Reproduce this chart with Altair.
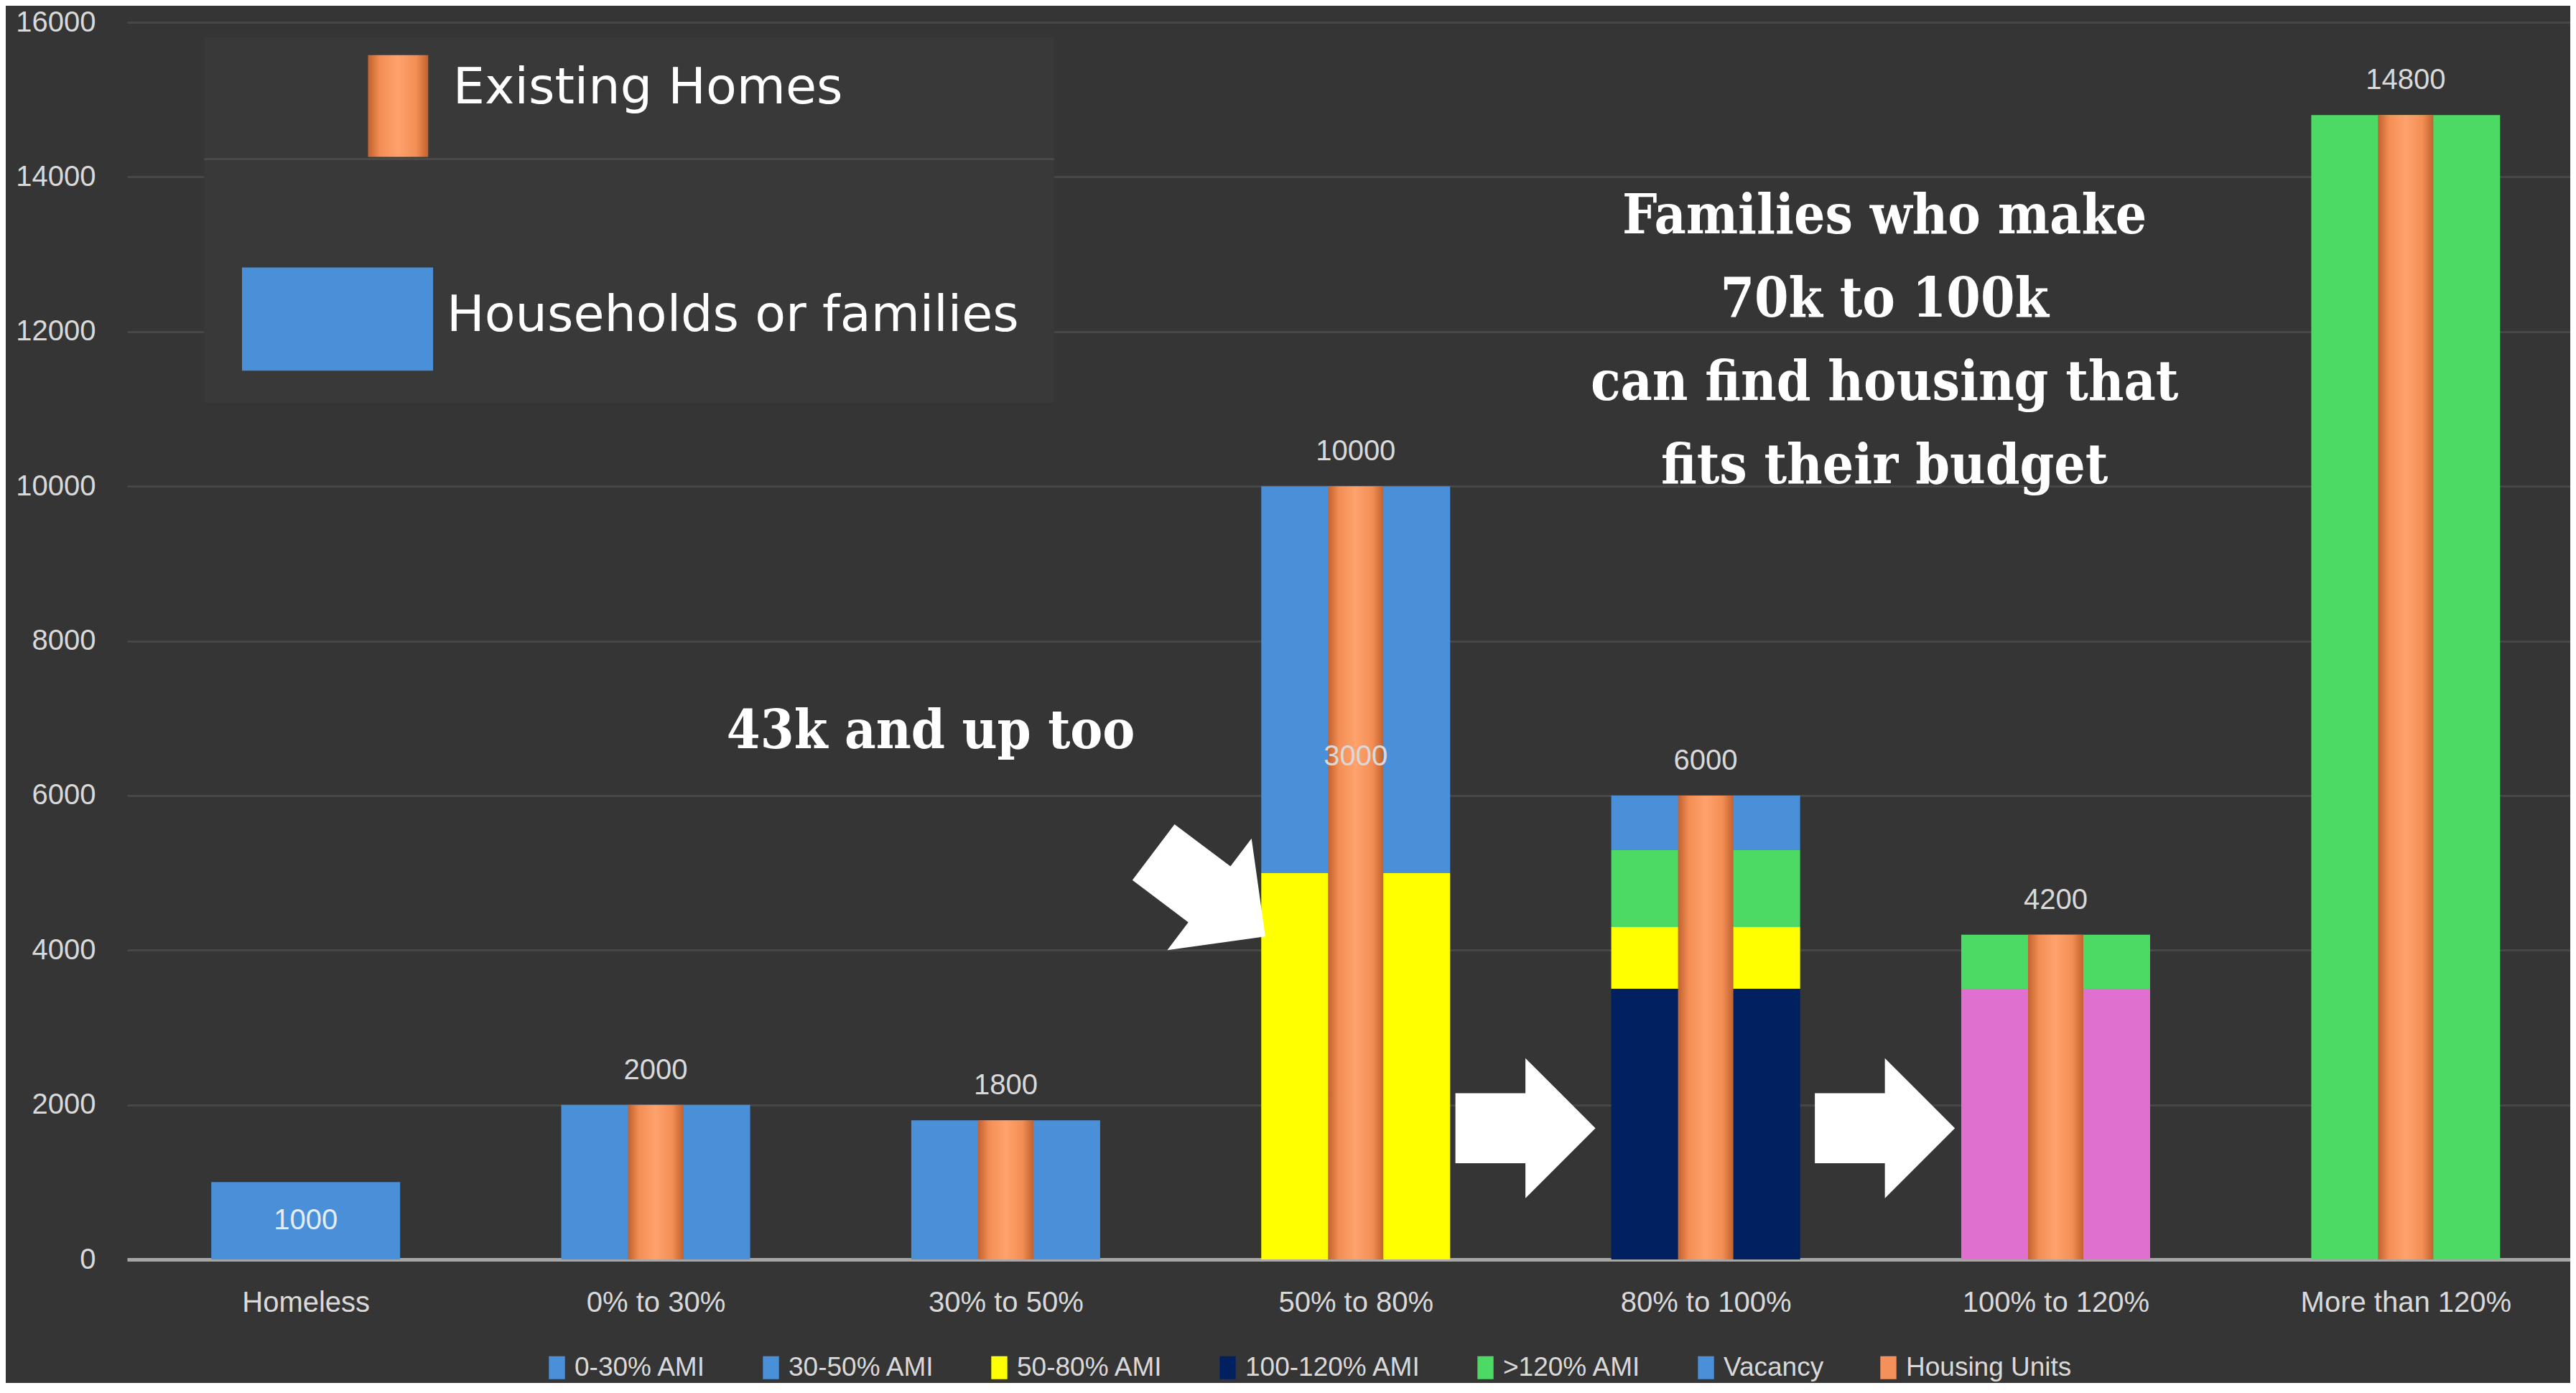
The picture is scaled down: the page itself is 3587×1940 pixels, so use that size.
import json
import altair as alt
import pandas as pd

# ---------------- data ----------------
categories = ["Homeless", "0% to 30%", "30% to 50%", "50% to 80%",
              "80% to 100%", "100% to 120%", "More than 120%"]

ami_0_30 = [1000, 2000, 0, 0, 0, 0, 0]
ami_30_50 = [0, 0, 1800, 0, 0, 0, 0]
ami_50_80 = [0, 0, 0, 5000, 800, 0, 0]
ami_80_100 = [0, 0, 0, 0, 0, 3500, 0]
ami_100_120 = [0, 0, 0, 0, 3500, 0, 0]
ami_120_plus = [0, 0, 0, 0, 1000, 700, 14800]
vacancy = [0, 0, 0, 5000, 700, 0, 0]
housing_units = [None, 2000, 1800, 10000, 6000, 4200, 14800]

y_ticks = [0, 2000, 4000, 6000, 8000, 10000, 12000, 14000, 16000]

legend_order = ["0-30% AMI", "30-50% AMI", "50-80% AMI", "100-120% AMI",
                ">120% AMI", "Vacancy", "Housing Units"]
legend_colors = ["#4A90D9", "#4A90D9", "#FFFF00", "#002060",
                 "#4CD964", "#4A90D9", "#F4915A"]
hidden_series = ["80-100% AMI"]
hidden_colors = ["#E070D0"]

stack_order = ["100-120% AMI", "80-100% AMI", "50-80% AMI", ">120% AMI",
               "0-30% AMI", "30-50% AMI", "Vacancy"]
series_values = {
    "0-30% AMI": ami_0_30,
    "30-50% AMI": ami_30_50,
    "50-80% AMI": ami_50_80,
    "80-100% AMI": ami_80_100,
    "100-120% AMI": ami_100_120,
    ">120% AMI": ami_120_plus,
    "Vacancy": vacancy,
}

# extra labels / annotations
note_labels = [("50% to 80%", 6500, "3000")]
arrow_points = [(2.582, 4722, 37), (3.485, 1698, 0), (4.512, 1698, 0)]
annot_43k = (1.786, 6827, "43k and up too")
annot_families = (4.511, 13488, "Families who make\n70k to 100k\ncan find housing that\nfits their budget")
inset_box = (-0.29, 2.138, 11076, 15807)
inset_line = (-0.29, 2.138, 14230)
inset_orange = (0.178, 0.350, 14258, 15575)
inset_blue = (-0.182, 0.364, 11493, 12829)
inset_texts = [(0.421, 15148, "Existing Homes"), (0.403, 12198, "Households or families")]

# ---------------- tables ----------------
rows = []
for i, cat in enumerate(categories):
    base = 0
    for s in stack_order:
        v = series_values[s][i]
        if v:
            rows.append({"idx": i, "category": cat, "series": s,
                         "value": v, "y0": base, "y1": base + v})
            base += v
seg_df = pd.DataFrame(rows)

hu_df = pd.DataFrame([{"idx": i, "category": c, "value": v}
                      for i, (c, v) in enumerate(zip(categories, housing_units))
                      if v is not None])
homeless_df = pd.DataFrame({"idx": [0], "value": [ami_0_30[0]]})
note_df = pd.DataFrame([{"idx": categories.index(c), "y": y, "text": t}
                        for c, y, t in note_labels])
arrow_df = pd.DataFrame([{"x": x, "y": y, "angle": a} for x, y, a in arrow_points])

# ---------------- style ----------------
BG = "#353535"
LABEL = "#d9d9d9"
SANS = "Liberation Sans"
SERIF = "DejaVu Serif Condensed, DejaVu Serif"

xs = alt.Scale(domain=[-0.5, 6.46], nice=False, zero=False)
ys = alt.Scale(domain=[0, 16000], nice=False, zero=True)

label_expr = json.dumps(categories) + "[datum.value]"

XAXIS = alt.Axis(values=list(range(len(categories))), labelExpr=label_expr,
                 ticks=False, tickSize=0, grid=False, domain=True,
                 domainColor="#a6a6a6", domainWidth=5,
                 labelFont=SANS, labelFontSize=40, labelColor=LABEL,
                 labelPadding=40, labelFlush=False, labelOverlap=False,
                 labelLimit=1000)
YAXIS = alt.Axis(values=y_ticks, ticks=False, tickSize=0, domain=False,
                 grid=True, gridColor="#474747", gridWidth=3,
                 labelFont=SANS, labelFontSize=40, labelColor=LABEL,
                 labelPadding=44, format="d", labelLimit=1000)


def X(field):
    return alt.X(field, scale=xs, axis=XAXIS, title=None)


def Y(field):
    return alt.Y(field, scale=ys, axis=YAXIS, title=None)


color_scale = alt.Scale(domain=legend_order + hidden_series,
                        range=legend_colors + hidden_colors)

orange_grad = alt.Gradient(
    gradient="linear", x1=0, x2=1, y1=0, y2=0,
    stops=[alt.GradientStop(color="#c2622f", offset=0),
           alt.GradientStop(color="#f38e55", offset=0.2),
           alt.GradientStop(color="#ffa26d", offset=0.5),
           alt.GradientStop(color="#f38e55", offset=0.8),
           alt.GradientStop(color="#c2622f", offset=1)])

# ---------------- layers ----------------
bars = alt.Chart(seg_df).mark_bar(size=263).encode(
    x=X("idx:Q"),
    y=Y("y0:Q"),
    y2="y1:Q",
    color=alt.Color("series:N", scale=color_scale, title=None,
                    legend=alt.Legend(values=legend_order, orient="none",
                                      direction="horizontal",
                                      legendX=580, legendY=1855,
                                      padding=0,
                                      symbolType="M -0.7 -1 L 0.7 -1 L 0.7 1 L -0.7 1 Z",
                                      symbolSize=1024, symbolStrokeWidth=0,
                                      labelFont=SANS, labelFontSize=37,
                                      labelColor=LABEL, labelOffset=6,
                                      labelLimit=1000,
                                      columnPadding=71)),
)

orange = alt.Chart(hu_df).mark_bar(size=77, color=orange_grad).encode(
    x=X("idx:Q"),
    y=Y("value:Q"),
    y2=alt.datum(0))

box = alt.Chart(pd.DataFrame([dict(zip(["x0", "x1", "y0", "y1"], inset_box))])).mark_rect(
    color="#393939").encode(
    x=X("x0:Q"), x2="x1:Q",
    y=Y("y0:Q"), y2="y1:Q")

box_line = alt.Chart(pd.DataFrame([dict(zip(["x0", "x1", "y"], inset_line))])).mark_rule(
    color="#4a4a4a", strokeWidth=3).encode(
    x=X("x0:Q"), x2="x1:Q",
    y=Y("y:Q"))

icon_orange = alt.Chart(pd.DataFrame([dict(zip(["x0", "x1", "y0", "y1"], inset_orange))])).mark_rect(
    color=orange_grad).encode(
    x=X("x0:Q"), x2="x1:Q",
    y=Y("y0:Q"), y2="y1:Q")

icon_blue = alt.Chart(pd.DataFrame([dict(zip(["x0", "x1", "y0", "y1"], inset_blue))])).mark_rect(
    color="#4A90D9").encode(
    x=X("x0:Q"), x2="x1:Q",
    y=Y("y0:Q"), y2="y1:Q")

inset_text = alt.Chart(pd.DataFrame([{"x": x, "y": y, "text": t} for x, y, t in inset_texts])).mark_text(
    font="DejaVu Sans", fontSize=70, color="#ffffff", align="left", baseline="middle").encode(
    x=X("x:Q"),
    y=Y("y:Q"),
    text="text:N")

top_labels = alt.Chart(hu_df).mark_text(
    font=SANS, fontSize=40, color=LABEL, baseline="middle", dy=-48).encode(
    x=X("idx:Q"),
    y=Y("value:Q"),
    text=alt.Text("value:Q", format="d"))

homeless_label = alt.Chart(homeless_df).transform_calculate(
    mid="datum.value / 2").mark_text(
    font=SANS, fontSize=40, color="#e4ecf6", baseline="middle").encode(
    x=X("idx:Q"),
    y=Y("mid:Q"),
    text=alt.Text("value:Q", format="d"))

note_label = alt.Chart(note_df).mark_text(
    font=SANS, fontSize=40, color=LABEL, baseline="middle").encode(
    x=X("idx:Q"),
    y=Y("y:Q"),
    text="text:N")

arrow_path = "M -1 -0.5 L 0 -0.5 L 0 -1 L 1 0 L 0 1 L 0 0.5 L -1 0.5 Z"
arrows = alt.Chart(arrow_df).mark_point(
    shape=arrow_path, size=38025, filled=True, color="#ffffff",
    opacity=1, strokeWidth=0).encode(
    x=X("x:Q"),
    y=Y("y:Q"),
    angle=alt.Angle("angle:Q", scale=None))

txt43 = alt.Chart(pd.DataFrame([{"x": annot_43k[0], "y": annot_43k[1], "text": annot_43k[2]}])).mark_text(
    font=SERIF, fontWeight="bold", fontSize=75, color="#ffffff", baseline="middle").encode(
    x=X("x:Q"),
    y=Y("y:Q"),
    text="text:N")

txt_fam = alt.Chart(pd.DataFrame([{"x": annot_families[0], "y": annot_families[1], "text": annot_families[2]}])).mark_text(
    font=SERIF, fontWeight="bold", fontSize=76, color="#ffffff", baseline="middle",
    lineBreak="\n", lineHeight=116).encode(
    x=X("x:Q"),
    y=Y("y:Q"),
    text="text:N")

chart = alt.layer(
    bars, orange, box, box_line, icon_orange, icon_blue, inset_text,
    top_labels, homeless_label, note_label,
    arrows, txt43, txt_fam
).properties(
    width=3402, height=1723,
    padding={"left": 169, "top": 23, "right": 0, "bottom": 172},
    autosize=alt.AutoSizeParams(type="none"),
).configure(background=BG).configure_view(strokeWidth=0)

chart.save("out.html", embed_options={"renderer": "svg", "actions": False})
